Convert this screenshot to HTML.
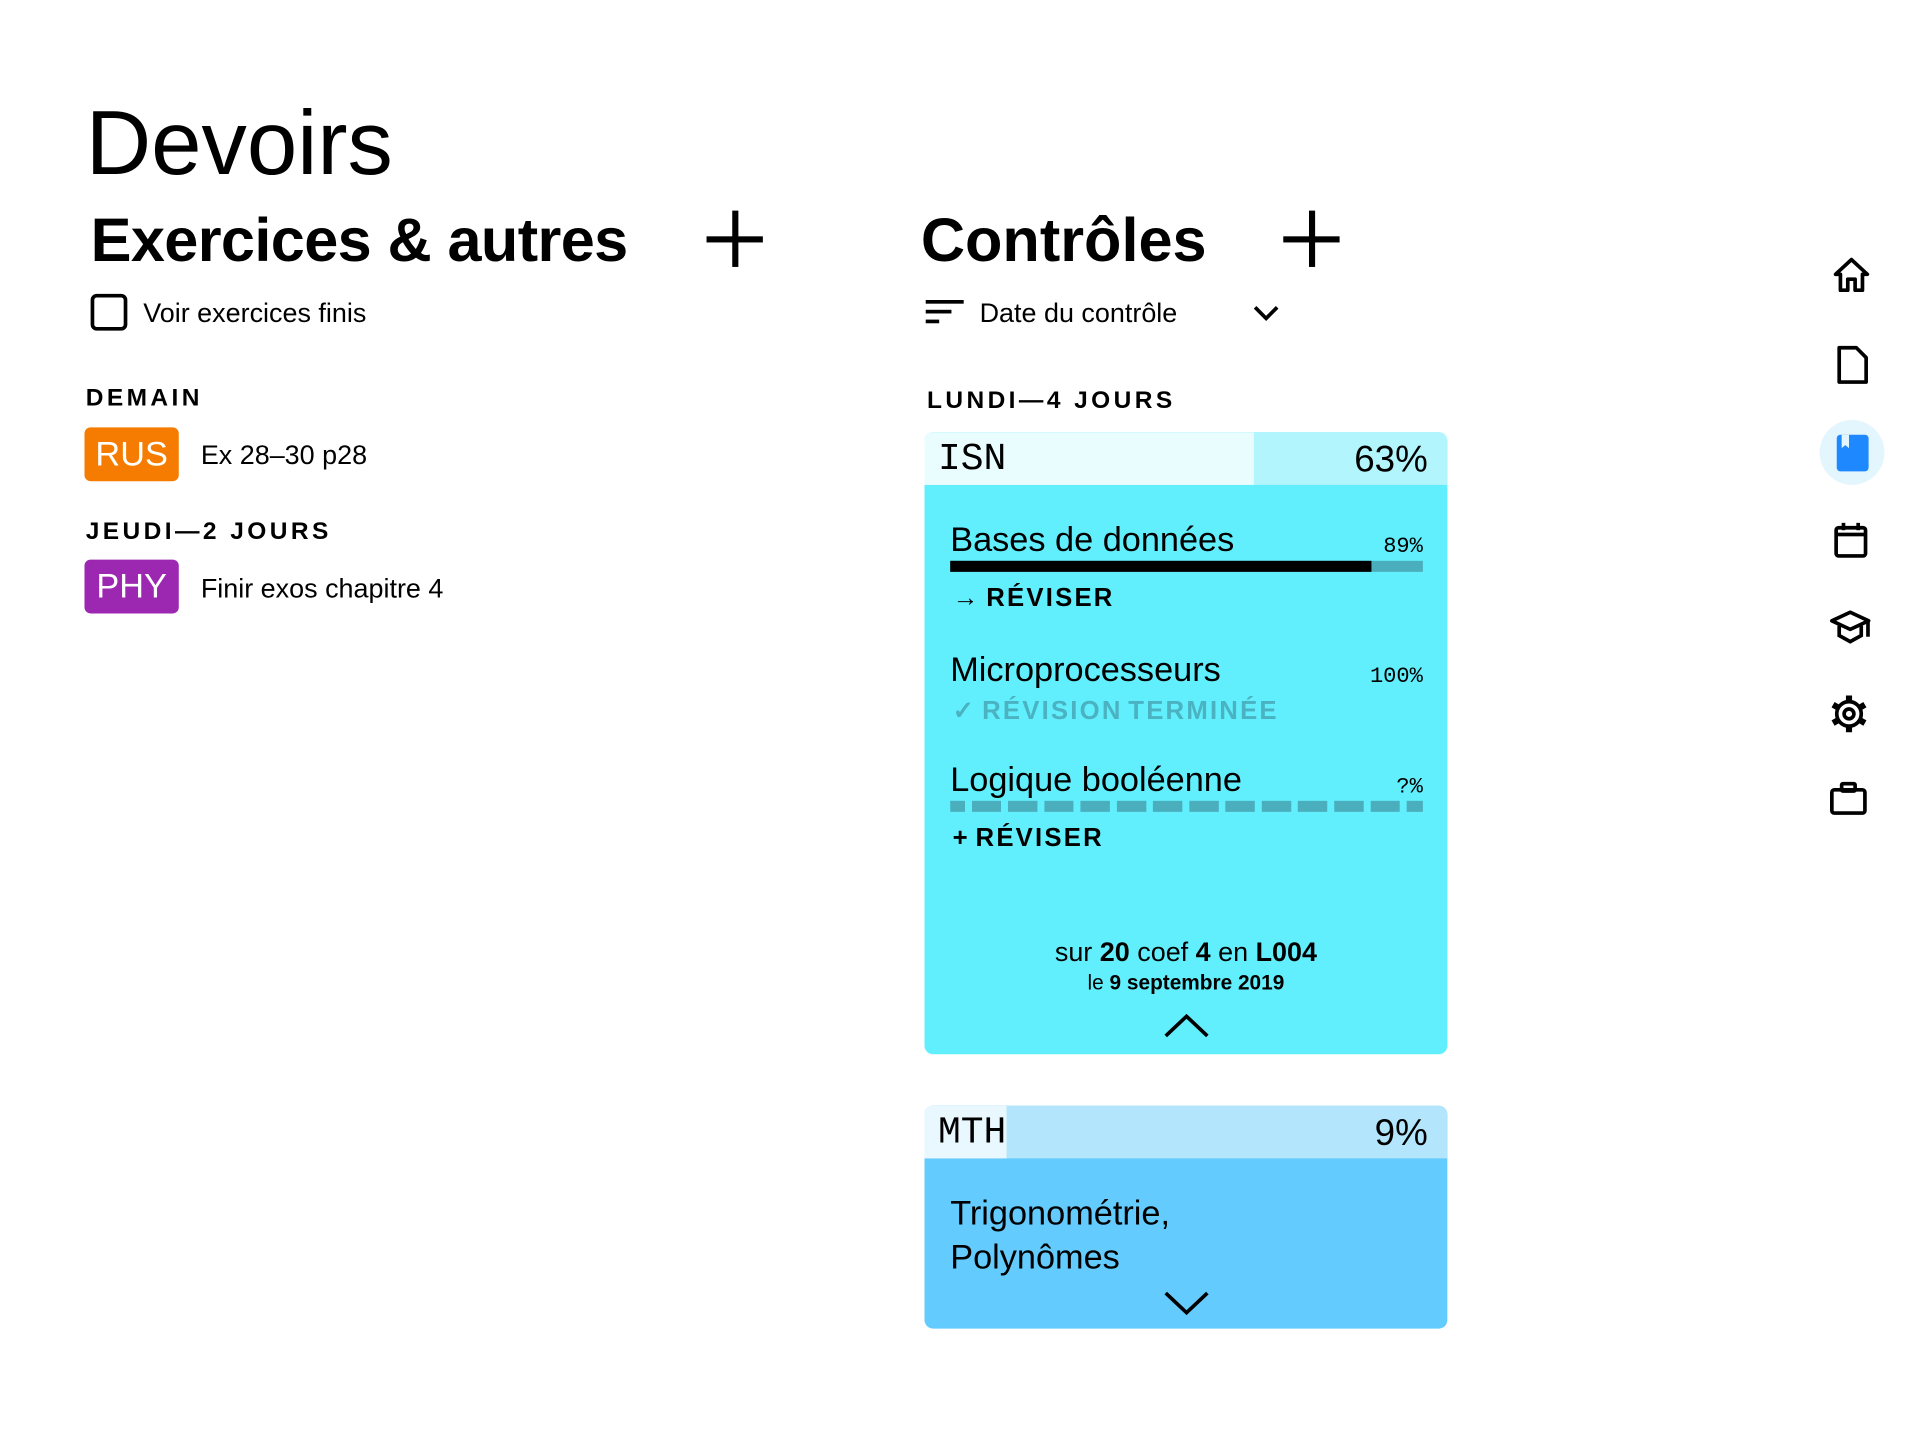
<!DOCTYPE html>
<html><head><meta charset="utf-8">
<style>
html,body{margin:0;padding:0;background:#fff;width:1920px;height:1450px;overflow:hidden}
#root{position:absolute;left:0;top:0;width:1568px;height:1184px;transform:scale(1.2245);transform-origin:0 0;font-family:"Liberation Sans",sans-serif;color:#000}
.a{position:absolute;white-space:nowrap}
.cap{font-weight:bold;font-size:20px;letter-spacing:2.8px}
.mono{font-family:"Liberation Mono",monospace}
.badge{position:absolute;width:77px;height:44px;border-radius:5px;color:#fff;font-size:28px;text-align:center;line-height:44px}
.plus{position:absolute;width:46px;height:46px}
.plus:before,.plus:after{content:"";position:absolute;background:#000}
.plus:before{left:21px;top:0;width:5px;height:46px}
.plus:after{left:0;top:21px;width:46px;height:5px}
</style></head><body>
<div id="root">
<div class="a" style="left:70px;top:74px;font-size:74px;">Devoirs</div>

<div class="a" style="left:74px;top:167px;font-size:50px;font-weight:bold;letter-spacing:-0.5px">Exercices &amp; autres</div>
<div class="plus" style="left:577px;top:172px"></div>
<div class="a" style="left:74px;top:240px;width:24px;height:24px;border:3px solid #000;border-radius:5px"></div>
<div class="a" style="left:117px;top:243px;font-size:22px">Voir exercices finis</div>

<div class="a cap" style="left:70px;top:314px">DEMAIN</div>
<div class="badge" style="left:69px;top:349px;background:#f57c00">RUS</div>
<div class="a" style="left:164px;top:359px;font-size:22px">Ex 28–30 p28</div>
<div class="a cap" style="left:70px;top:423px">JEUDI—2 JOURS</div>
<div class="badge" style="left:69px;top:457px;background:#9c27b0">PHY</div>
<div class="a" style="left:164px;top:468px;font-size:22px">Finir exos chapitre 4</div>

<div class="a" style="left:752px;top:167px;font-size:50px;font-weight:bold">Contrôles</div>
<div class="plus" style="left:1048px;top:172px"></div>
<svg class="a" style="left:755px;top:243px" width="34" height="24"><rect x="1" y="2" width="31" height="3"/><rect x="1" y="10" width="21" height="3"/><rect x="1" y="18" width="11" height="3"/></svg>
<div class="a" style="left:800px;top:243px;font-size:22px">Date du contrôle</div>
<svg class="a" style="left:1022px;top:247px" width="24" height="18"><polyline points="3,4 12,13 21,4" fill="none" stroke="#000" stroke-width="3"/></svg>
<div class="a cap" style="left:757px;top:316px">LUNDI—4 JOURS</div>

<!-- ISN card -->
<div class="a" style="left:755px;top:353px;width:427px;height:508px;background:#62effd;border-radius:7px;overflow:hidden">
  <div class="a" style="left:0;top:0;width:427px;height:43px;background:#b2f5fd"></div>
  <div class="a" id="isnFill" style="left:0;top:0;height:43px;background:#e9fcfe"></div>
  <div class="a mono" style="left:11px;top:5px;font-size:31px">ISN</div>
  <div class="a" id="isnPct" style="right:16px;top:6px;font-size:30px"></div>
  <div id="topics"></div>
  <div class="a" style="left:0;width:427px;top:412px;text-align:center;font-size:22px">sur <b>20</b> coef <b>4</b> en <b>L004</b></div>
  <div class="a" style="left:0;width:427px;top:440px;text-align:center;font-size:17px">le <b>9 septembre 2019</b></div>
  <svg class="a" style="left:195px;top:472px" width="38" height="24"><polyline points="2,21 19,5 36,21" fill="none" stroke="#000" stroke-width="3"/></svg>
</div>

<!-- MTH card -->
<div class="a" style="left:755px;top:903px;width:427px;height:182px;background:#63cbfd;border-radius:7px;overflow:hidden">
  <div class="a" style="left:0;top:0;width:427px;height:43px;background:#b3e6fd"></div>
  <div class="a" id="mthFill" style="left:0;top:0;height:43px;background:#e9f7fe"></div>
  <div class="a mono" style="left:11px;top:5px;font-size:31px">MTH</div>
  <div class="a" id="mthPct" style="right:16px;top:6px;font-size:30px"></div>
  <div class="a" style="left:21px;top:70px;font-size:28px;line-height:36px">Trigonométrie,<br>Polynômes</div>
  <svg class="a" style="left:195px;top:150px" width="38" height="24"><polyline points="2,3 19,19 36,3" fill="none" stroke="#000" stroke-width="3"/></svg>
</div>

<!-- sidebar -->
<div class="a" style="left:1486px;top:343px;width:53px;height:53px;border-radius:50%;background:#e3f6fd"></div>
<svg class="a" style="left:1496px;top:208px" width="32" height="32"><path d="M3,16 L16,4 L29,16 H25 V29 H19 V20 H13 V29 H7 V16 Z" fill="none" stroke="#000" stroke-width="3" stroke-linejoin="round"/></svg>
<svg class="a" style="left:1499px;top:281px" width="28" height="34"><path d="M3,3 H17 L25,11 V31 H3 Z" fill="none" stroke="#000" stroke-width="3" stroke-linejoin="round"/></svg>
<svg class="a" style="left:1499px;top:354px" width="28" height="32"><rect x="1" y="1" width="26" height="30" rx="3" fill="#1e88fe"/><path d="M5,1 V12 L8,9.5 L11,12 V1 Z" fill="#e3f6fd"/></svg>
<svg class="a" style="left:1497px;top:425px" width="30" height="32"><rect x="2.5" y="6" width="24" height="23" rx="2" fill="none" stroke="#000" stroke-width="3"/><rect x="2.5" y="10" width="24" height="3"/><rect x="7" y="2" width="3" height="6"/><rect x="19" y="2" width="3" height="6"/></svg>
<svg class="a" style="left:1494px;top:497px" width="36" height="30"><path d="M2,10 L17,3 L32,10 L17,17 Z" fill="none" stroke="#000" stroke-width="3" stroke-linejoin="round"/><path d="M8,14 V22 L17,27 L26,22 V14" fill="none" stroke="#000" stroke-width="3"/><rect x="30" y="10" width="3" height="13"/></svg>
<svg class="a" style="left:1494px;top:567px" width="32" height="32"><g transform="translate(16,16)"><circle r="10" fill="none" stroke="#000" stroke-width="3"/><circle r="4" fill="none" stroke="#000" stroke-width="3"/><g stroke="#000" stroke-width="5"><line x1="0" y1="-10" x2="0" y2="-15"/><line x1="0" y1="10" x2="0" y2="15"/><line x1="-13" y1="-7.5" x2="-8.7" y2="-5"/><line x1="13" y1="7.5" x2="8.7" y2="5"/><line x1="-13" y1="7.5" x2="-8.7" y2="5"/><line x1="13" y1="-7.5" x2="8.7" y2="-5"/></g></g></svg>
<svg class="a" style="left:1494px;top:637px" width="32" height="30"><rect x="2" y="8" width="27" height="19" rx="2" fill="none" stroke="#000" stroke-width="3"/><rect x="10" y="3" width="11" height="6" rx="1" fill="none" stroke="#000" stroke-width="3"/></svg>
</div>

<script>
const topicNames = ["Bases de données", "Microprocesseurs", "Logique booléenne"];
const topicProgress = [89, 100, null];
const topicActions = ["→ RÉVISER", "✓ RÉVISION TERMINÉE", "+ RÉVISER"];
const subjectCodes = ["ISN", "MTH"];
const subjectPercents = [63, 9];

const card = document.getElementById('topics');
const W = 386, X0 = 21;
const tops = [72, 178, 268];
topicNames.forEach((name, i) => {
  const t = tops[i];
  const n = document.createElement('div');
  n.className = 'a';
  
  
  n.style.cssText = `left:${X0}px;top:${t}px;font-size:28px`;
  n.textContent = name;
  card.appendChild(n);
  const p = document.createElement('div');
  p.className = 'a mono';
  
  
  p.style.cssText = `right:20px;top:${t + 12}px;font-size:18px`;
  p.textContent = (topicProgress[i] === null ? '?' : topicProgress[i]) + '%';
  card.appendChild(p);
  const v = topicProgress[i];
  const by = t + 33;
  if (v === null) {
    const bar = document.createElement('div');
    bar.className = 'a';
    
    
    bar.style.cssText = `left:${X0}px;top:${by}px;width:${W}px;height:9px;`;
    bar.style.background = 'repeating-linear-gradient(90deg,#4aaebd 0 24px,transparent 24px 29.6px)';
    bar.style.backgroundPosition = '-12px 0';
    card.appendChild(bar);
  } else if (v < 100) {
    const track = document.createElement('div');
    track.className = 'a';
    
    
    track.style.cssText = `left:${X0}px;top:${by}px;width:${W}px;height:9px;background:#4aaebd`;
    card.appendChild(track);
    const fill = document.createElement('div');
    fill.className = 'a';
    
    
    fill.style.cssText = `left:${X0}px;top:${by}px;width:${W * v / 100}px;height:9px;background:#000`;
    card.appendChild(fill);
  }
  const done = v === 100;
  const act = document.createElement('div');
  act.className = 'a';
  
  
  act.style.cssText = `left:${X0 + 2}px;top:${done ? t + 37 : t + 52}px;font-size:21px;font-weight:bold;letter-spacing:1.8px;word-spacing:-3px;color:${done ? '#4ab2c1' : '#000'}`;
  act.textContent = topicActions[i];
  card.appendChild(act);
});

const HW = 427;
document.getElementById('isnFill').style.width = Math.max(HW * subjectPercents[0] / 100, 67) + 'px';
document.getElementById('mthFill').style.width = Math.max(HW * subjectPercents[1] / 100, 67) + 'px';
document.getElementById('isnPct').textContent = subjectPercents[0] + '%';
document.getElementById('mthPct').textContent = subjectPercents[1] + '%';
</script>
</body></html>
